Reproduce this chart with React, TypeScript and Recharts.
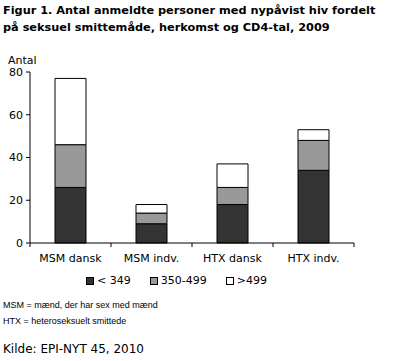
import { BarChart, Bar, XAxis, YAxis } from 'recharts';

// Figur 1 – nypåviste hiv, fordelt på smittemåde, herkomst og CD4-tal (2009)

const categories = ['MSM dansk', 'MSM indv.', 'HTX dansk', 'HTX indv.'];
const cd4Under349 = [26, 9, 18, 34];
const cd4From350 = [20, 5, 8, 14];
const cd4Over499 = [31, 4, 11, 5];
const yTicks = [0, 20, 40, 60, 80];

const series = [
  { key: 'lav', name: '< 349', color: '#333333', values: cd4Under349 },
  { key: 'mid', name: '350-499', color: '#999999', values: cd4From350 },
  { key: 'hoj', name: '>499', color: '#ffffff', values: cd4Over499 },
];

const chartData = categories.map((cat, i) => {
  const row: any = { cat };
  series.forEach((s) => (row[s.key] = s.values[i]));
  return row;
});

const W = 393;
const CHART_H = 270;
const Y_AXIS_W = 30;
const RIGHT = 39;
const PLOT_W = W - Y_AXIS_W - RIGHT;
const BAND = PLOT_W / categories.length;
const FONT = '"DejaVu Sans", Verdana, sans-serif';

const XTick = (props: any) => {
  const { x, y, payload, index } = props;
  return (
    <g>
      <line x1={x - BAND / 2} x2={x - BAND / 2} y1={y} y2={y + 4} stroke="#000" />
      {index === categories.length - 1 && (
        <line x1={x + BAND / 2} x2={x + BAND / 2} y1={y} y2={y + 4} stroke="#000" />
      )}
      <text x={x} y={y + 19} textAnchor="middle" fontSize={11} fontFamily={FONT} fill="#000">
        {payload.value}
      </text>
    </g>
  );
};

export default function App() {
  return (
    <div style={{ position: 'absolute', left: 0, top: 0, width: W, height: 361, background: '#fff', fontFamily: FONT, color: '#000' }}>
      <div style={{ position: 'absolute', left: 3, top: 2, fontSize: 11.3, fontWeight: 'bold', lineHeight: '17px', whiteSpace: 'nowrap' }}>
        Figur 1. Antal anmeldte personer med nypåvist hiv fordelt
        <br />
        på seksuel smittemåde, herkomst og CD4-tal, 2009
      </div>
      <div style={{ position: 'absolute', left: 8, top: 55, fontSize: 11, lineHeight: '12px' }}>Antal</div>

      <div style={{ position: 'absolute', left: 0, top: 0 }}>
        <BarChart width={W} height={CHART_H} data={chartData} margin={{ top: 72, right: RIGHT, left: 0, bottom: 0 }}>
          <XAxis
            dataKey="cat"
            height={CHART_H - 243}
            axisLine={{ stroke: '#000' }}
            tickLine={false}
            tickSize={0}
            tickMargin={0}
            interval={0}
            tick={<XTick />}
          />
          <YAxis
            width={Y_AXIS_W}
            domain={[0, 80]}
            ticks={yTicks}
            interval={0}
            axisLine={{ stroke: '#000' }}
            tickLine={{ stroke: '#000' }}
            tickSize={4}
            tickMargin={3}
            tick={{ fill: '#000', fontSize: 11, fontFamily: FONT }}
          />
          {series.map((s) => (
            <Bar
              key={s.key}
              dataKey={s.key}
              name={s.name}
              stackId="cd4"
              fill={s.color}
              stroke="#000"
              strokeWidth={1}
              barSize={31}
              isAnimationActive={false}
            />
          ))}
        </BarChart>
      </div>

      <div style={{ position: 'absolute', left: 86, top: 275, display: 'flex', fontSize: 11, lineHeight: '12px' }}>
        {series.map((s) => (
          <div key={s.key} style={{ display: 'flex', alignItems: 'center', marginRight: 19 }}>
            <span style={{ display: 'inline-block', width: 6, height: 6, background: s.color, border: '1px solid #000', marginRight: 3 }} />
            {s.name}
          </div>
        ))}
      </div>

      <div style={{ position: 'absolute', left: 3, top: 297, fontSize: 9, lineHeight: '16px', fontFamily: '"Liberation Sans", Arial, sans-serif' }}>
        MSM = mænd, der har sex med mænd
        <br />
        HTX = heteroseksuelt smittede
      </div>
      <div style={{ position: 'absolute', left: 3, top: 342, fontSize: 12, lineHeight: '14px' }}>Kilde: EPI-NYT 45, 2010</div>
    </div>
  );
}
